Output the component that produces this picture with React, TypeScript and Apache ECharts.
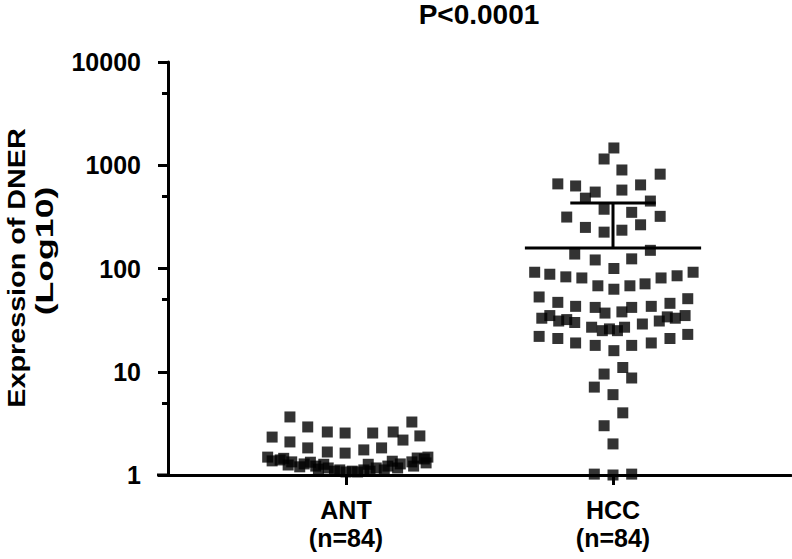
import React, { useEffect, useRef } from 'react';
import * as echarts from 'echarts';

// ---- data ----
const categories = ['ANT', 'HCC'];
const groupSizes = ['(n=84)', '(n=84)'];
const yTickValues = [1, 10, 100, 1000, 10000];
const yMinorTickValues = [5, 50, 500, 5000];
const titleText = 'P<0.0001';
const yNameLines = ['Expression of DNER', '(Log10)'];

// horizontal jitter (in category units) and expression values, ANT group
const antJitter = [
  -0.63, 0.74, -0.83, -0.43, -0.21, -0.01, 0.30, 0.53, 0.64, 0.83,
  -0.63, -0.43, -0.21, -0.01, 0.20, 0.40,
  -0.88, -0.74, -0.61, -0.47, -0.34, -0.20, -0.07, 0.07, 0.20, 0.34, 0.47, 0.61, 0.74, 0.88, 0.92,
  -0.83, -0.65, -0.52, -0.31, -0.13, 0.00, 0.13, 0.27, 0.43, 0.58, 0.76, 0.90,
  -0.70, -0.40, -0.25, 0.25, 0.52, 0.80,
];
const antValues = [
  3.65, 3.26, 2.33, 2.92, 2.61, 2.55, 2.55, 2.61, 2.18, 2.39,
  2.09, 1.83, 1.67, 1.63, 1.75, 1.83,
  1.49, 1.40, 1.34, 1.28, 1.22, 1.17, 1.12, 1.09, 1.12, 1.17, 1.22, 1.28, 1.34, 1.43, 1.49,
  1.37, 1.25, 1.20, 1.14, 1.09, 1.07, 1.07, 1.09, 1.12, 1.17, 1.22, 1.31,
  1.45, 1.33, 1.27, 1.27, 1.36, 1.46,
];

// HCC group
const hccJitter = [
  0.01, -0.10, 0.10, 0.53, -0.62, -0.42, -0.20, 0.10, 0.31, -0.31,
  0.42, -0.10, 0.21, -0.52, 0.53, -0.31, 0.31, -0.10, 0.10, 0.42,
  -0.43, -0.20, 0.21, 0.01,
  -0.88, -0.71, -0.53, -0.35, -0.17, 0.01, 0.19, 0.36, 0.54, 0.72, 0.90,
  -0.83, -0.62, -0.42, -0.20, -0.09, 0.10, 0.21, 0.43, 0.64, 0.84,
  -0.80, -0.61, -0.43, -0.24, -0.04, 0.13, 0.33, 0.52, 0.70, 0.81,
  -0.71, -0.52, 0.05, -0.12, 0.61,
  -0.83, -0.62, -0.42, -0.20, 0.01, 0.21, 0.43, 0.64, 0.84,
  0.11, -0.10, 0.21, -0.21, 0.00, 0.11, -0.10, 0.00, -0.21, 0.00, 0.21,
];
const hccValues = [
  1470, 1150, 900, 820, 660, 630, 550, 575, 645, 480,
  450, 375, 350, 315, 320, 250, 265, 225, 235, 150,
  138, 121, 124, 100,
  92, 88, 83, 81, 68, 63, 68, 71, 81, 85, 92,
  53, 47, 43, 42, 37, 38, 42, 43, 46, 51,
  33, 31, 30, 27, 26, 27, 29, 31, 33, 35,
  35, 32, 25, 25, 34,
  22, 21, 19, 18, 16, 18, 19, 21, 23,
  11, 9.5, 8.7, 7.1, 6.0, 4.0, 3.0, 2.0, 1.02, 1.0, 1.02,
];
const hccMean = 158;
const hccSdUpper = 431;

// ---- layout constants ----
const categorySlots = [2, 5];
const xMax = 7;
const meanHalfWidth = 0.99;
const capHalfWidth = 0.48;
const FONT = '"Liberation Sans", Arial, Helvetica, sans-serif';

export default function App() {
  const ref = useRef<HTMLDivElement>(null);

  useEffect(() => {
    if (!ref.current) return;
    const chart = echarts.init(ref.current, undefined, { renderer: 'svg' });

    const antData = antValues.map((v, i) => [categorySlots[0] + antJitter[i], v]);
    const hccData = hccValues.map((v, i) => [categorySlots[1] + hccJitter[i], v]);
    const hx = categorySlots[1];

    const lineStyle = { color: '#000', width: 3 };

    chart.setOption({
      animation: false,
      backgroundColor: '#fff',
      grid: { left: 168, right: 1, top: 62, bottom: 84, containLabel: false },
      xAxis: {
        type: 'value',
        min: 0,
        max: xMax,
        axisLine: { show: true, lineStyle: { color: '#000', width: 3 } },
        axisTick: { show: true, customValues: categorySlots, length: 10, lineStyle: { color: '#000', width: 3 } },
        axisLabel: {
          show: true,
          customValues: categorySlots,
          margin: 21,
          color: '#000',
          fontFamily: FONT,
          fontWeight: 'bold',
          fontSize: 25,
          lineHeight: 28,
          formatter: (v: number) => {
            const i = categorySlots.indexOf(Math.round(v));
            return i >= 0 ? `${categories[i]}\n${groupSizes[i]}` : '';
          },
        },
        splitLine: { show: false },
      },
      yAxis: [
        {
          type: 'log',
          logBase: 10,
          min: yTickValues[0],
          max: yTickValues[yTickValues.length - 1],
          axisLine: { show: true, lineStyle: { color: '#000', width: 3 } },
          axisTick: { show: true, length: 10, lineStyle: { color: '#000', width: 3 } },
          axisLabel: {
            margin: 27,
            color: '#000',
            fontFamily: FONT,
            fontWeight: 'bold',
            fontSize: 25,
            formatter: (v: number) => String(Math.round(v)),
          },
          splitLine: { show: false },
        },
        {
          type: 'value',
          min: 0,
          max: Math.log10(yTickValues[yTickValues.length - 1]),
          position: 'left',
          axisLine: { show: false },
          axisTick: {
            show: true,
            customValues: yMinorTickValues.map((v) => Math.log10(v)),
            length: 6,
            lineStyle: { color: '#000', width: 3 },
          },
          axisLabel: { show: false },
          splitLine: { show: false },
        },
      ],
      graphic: [
        {
          type: 'line',
          shape: { x1: 157, y1: 475, x2: 169, y2: 475 },
          style: { stroke: '#000', lineWidth: 3 },
          z: 10,
        },
        {
          type: 'text',
          x: 479,
          y: 14.5,
          style: {
            text: titleText,
            fill: '#000',
            fontFamily: FONT,
            fontWeight: 'bold',
            fontSize: 28,
            align: 'center',
            verticalAlign: 'middle',
          },
        },
        {
          type: 'text',
          x: 17.5,
          y: 268,
          rotation: Math.PI / 2,
          scaleX: 1.25,
          style: {
            text: yNameLines[0],
            fill: '#000',
            fontFamily: FONT,
            fontWeight: 'bold',
            fontSize: 23,
            align: 'center',
            verticalAlign: 'middle',
          },
        },
        {
          type: 'text',
          x: 45,
          y: 251,
          rotation: Math.PI / 2,
          scaleX: 1.55,
          style: {
            text: yNameLines[1],
            fill: '#000',
            fontFamily: FONT,
            fontWeight: 'bold',
            fontSize: 23,
            align: 'center',
            verticalAlign: 'middle',
          },
        },
      ],
      series: [
        {
          type: 'scatter',
          name: categories[0],
          xAxisIndex: 0,
          yAxisIndex: 0,
          symbol: 'rect',
          symbolSize: 11,
          clip: false,
          itemStyle: { color: '#000' },
          data: antData,
        },
        {
          type: 'scatter',
          name: categories[1],
          xAxisIndex: 0,
          yAxisIndex: 0,
          symbol: 'rect',
          symbolSize: 11,
          clip: false,
          itemStyle: { color: '#000' },
          data: hccData,
        },
        {
          type: 'line',
          yAxisIndex: 0,
          symbol: 'none',
          lineStyle,
          data: [[hx - meanHalfWidth, hccMean], [hx + meanHalfWidth, hccMean]],
          z: 3,
        },
        {
          type: 'line',
          yAxisIndex: 0,
          symbol: 'none',
          lineStyle,
          data: [[hx, hccMean], [hx, hccSdUpper]],
          z: 3,
        },
        {
          type: 'line',
          yAxisIndex: 0,
          symbol: 'none',
          lineStyle,
          data: [[hx - capHalfWidth, hccSdUpper], [hx + capHalfWidth, hccSdUpper]],
          z: 3,
        },
      ],
    });

    return () => chart.dispose();
  }, []);

  return (
    <div
      ref={ref}
      style={{ position: 'absolute', left: 0, top: 0, width: 792, height: 559, background: '#fff' }}
    />
  );
}
